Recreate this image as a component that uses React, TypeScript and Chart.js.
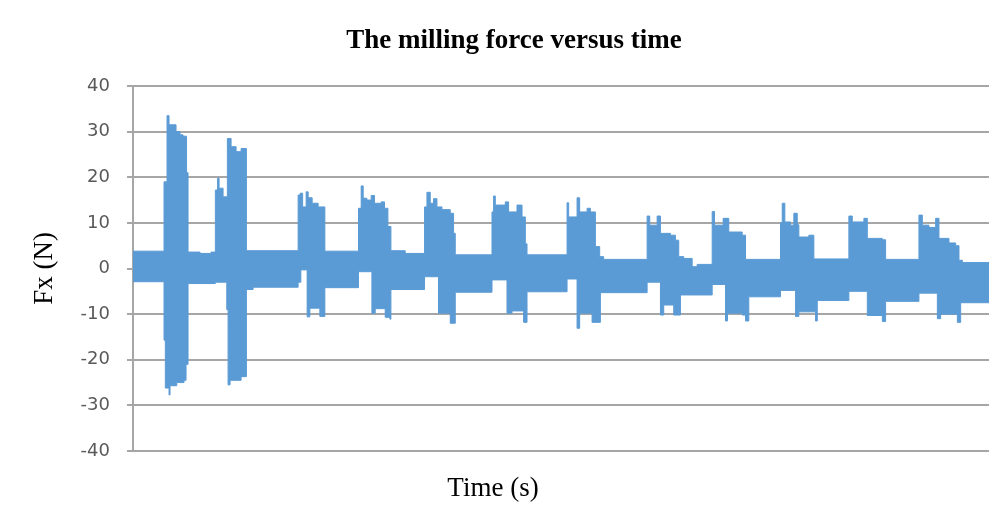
import React, { useEffect, useRef } from "react";
import { Chart, registerables } from "chart.js";

Chart.register(...registerables);

// Envelope of the sampled milling force signal (time in s, force in N)
const TIME_UPPER = [
  0, 3.1, 3.4, 3.6, 4.3, 4.7, 5.0, 5.35, 5.5, 6.7, 7.8, 8.23, 8.45, 8.6, 9.0, 9.43, 9.8, 10.3, 10.8, 11.33,
  16.5, 16.7, 16.95, 17.3, 17.5, 17.9, 18.5, 19.17, 22.53, 22.8, 23.0, 23.37, 23.8, 24.13, 24.8, 25.13, 25.47,
  25.77, 27.2, 29.13, 29.37, 29.7, 30.03, 30.37, 30.87, 31.7, 32.03, 32.2, 35.87, 36.03, 36.2, 37.2, 37.53,
  38.37, 38.87, 39.2, 39.37, 43.37, 43.53, 44.37, 44.63, 45.37, 45.7, 46.2, 46.63, 47.03, 51.37, 51.63, 52.37,
  52.7, 53.7, 54.2, 54.53, 55.03, 55.87, 56.37, 57.87, 58.1, 58.97, 59.53, 60.87, 61.2, 64.7, 64.87, 65.13,
  65.7, 66.03, 66.37, 66.53, 67.53, 68.03, 71.53, 71.87, 73.03, 73.37, 74.87, 75.2, 78.53, 78.87, 79.53, 80.2,
  80.53, 81.53, 82.2, 82.53, 82.87, 85.53,
];
const FORCE_UPPER = [
  3.8, 19, 33.5, 31.5, 30, 29.3, 29, 21, 3.6, 3.3, 3.6, 17.2, 19.8, 17.6, 15.7, 28.5, 26.7, 25.6, 26.3, 3.9,
  16.1, 16.5, 13.5, 16.8, 15.5, 14.3, 13.5, 3.8, 13.2, 18.1, 15.4, 15, 16, 14.3, 14.6, 13.2, 9.2,
  3.9, 3.3, 13.5, 16.7, 14.3, 15.3, 13.5, 12.9, 12.1, 7.7, 3, 12.4, 15.9, 13.9, 14.6, 12.4,
  13.9, 11.3, 5.4, 3, 14.4, 11.3, 15.5, 12.4, 13.2, 12.4, 4.8, 2.6, 2, 11.5, 9.5, 11.5,
  7.7, 7.3, 6.2, 2.6, 2.2, 0.4, 0.9, 12.5, 9.5, 11, 8, 7.3, 2, 10, 14.3, 10.2,
  9.5, 12.1, 9.6, 6.9, 7.3, 2.1, 11.5, 10.2, 11, 6.6, 6.3, 2, 11.7, 9.5, 9, 11,
  6.6, 5.6, 5, 1.8, 1.3, 1.3,
];
const TIME_LOWER = [
  0, 3.1, 3.23, 3.6, 3.7, 4.37, 5.1, 5.3, 5.5, 8.23, 9.37, 9.5, 9.7, 10.8, 11.33, 12.0, 16.5, 16.77, 17.4,
  17.67, 18.67, 19.17, 22.53, 23.87, 24.2, 25.2, 25.67, 25.77, 29.13, 30.53, 31.7, 32.2, 35.87, 37.37, 37.87,
  39.03, 39.37, 43.37, 44.37, 44.63, 45.87, 46.7, 51.37, 52.7, 53.03, 54.03, 54.7, 57.87, 59.2, 59.4, 60.87,
  61.2, 61.53, 64.7, 66.2, 66.53, 68.2, 68.37, 71.53, 73.37, 74.87, 75.2, 78.53, 80.37, 80.7, 82.37, 82.7, 85.53,
];
const FORCE_LOWER = [
  -2.9, -15.7, -26.2, -27.7, -25.7, -25, -24.5, -21, -3.3, -3, -9, -25.5, -24.5, -23.7, -4.6, -4.1, -3, -0.3, -10.6,
  -8.7, -10.5, -4.2, -0.7, -9.8, -8.8, -10.7, -11.1, -4.6, -1.8, -9.8, -12, -5.2, -2.5, -9.8, -9.3,
  -11.8, -5.1, -2.3, -13.1, -9.8, -11.8, -5.3, -3, -10.2, -8, -10.2, -5.8, -3.5, -11.5, -9.8, -10.2,
  -11.5, -6.2, -4.8, -10.5, -9.5, -11.5, -7, -5, -10.3, -11.6, -7.2, -5.4, -11, -10, -11.8, -7.5, -7.5,
];
const Y_TICKS = [-40, -30, -20, -10, 0, 10, 20, 30, 40];
const CHART_TITLE = "The milling force versus time";
const X_TITLE = "Time (s)";
const Y_TITLE = "Fx (N)";

const BLUE = "#5B9BD5";
const GRID = "#a6a6a6";

const textPlugin = {
  id: "textPlugin",
  afterDraw(chart: any) {
    const ctx = chart.ctx;
    const area = chart.chartArea;
    ctx.save();
    ctx.fillStyle = "#9a9a9a";
    ctx.fillRect(5, 3, 2, 517);
    ctx.fillRect(5, 3, 1001, 2);
    ctx.fillStyle = "#000";
    ctx.textAlign = "center";
    ctx.textBaseline = "middle";
    ctx.font = "bold 27px 'Liberation Serif'";
    ctx.fillText(CHART_TITLE, 514, 41);
    ctx.font = "27px 'Liberation Serif'";
    ctx.fillText(X_TITLE, 493, 489);
    ctx.translate(45, (area.top + area.bottom) / 2);
    ctx.rotate(-Math.PI / 2);
    ctx.fillText(Y_TITLE, 0, 0);
    ctx.restore();
  },
};

export default function App() {
  const ref = useRef<HTMLCanvasElement>(null);
  useEffect(() => {
    const upper = TIME_UPPER.map((t, i) => ({ x: t, y: FORCE_UPPER[i] }));
    const lower = TIME_LOWER.map((t, i) => ({ x: t, y: FORCE_LOWER[i] }));
    const chart = new Chart(ref.current!, {
      type: "line",
      data: {
        datasets: [
          { label: "Fx max", data: upper, stepped: "before", borderColor: BLUE, backgroundColor: BLUE, borderWidth: 1, pointRadius: 0, fill: false },
          { label: "Fx min", data: lower, stepped: "before", borderColor: BLUE, backgroundColor: BLUE, borderWidth: 1, pointRadius: 0, fill: "-1" },
        ],
      },
      options: {
        animation: false,
        responsive: false,
        layout: { padding: { left: 0, right: 17, top: 86, bottom: 69 } },
        plugins: { legend: { display: false }, tooltip: { enabled: false }, title: { display: false } },
        scales: {
          x: { type: "linear", min: 0, max: 85.53, display: false },
          y: {
            min: -40,
            max: 40,
            afterBuildTicks: (s: any) => { s.ticks = Y_TICKS.map((v) => ({ value: v })); },
            afterFit: (s: any) => { s.width = 133; },
            ticks: { color: "#595959", font: { family: "'DejaVu Sans'", size: 18 }, padding: 17 },
            grid: { color: GRID, lineWidth: 2, tickLength: 6, tickColor: GRID },
            border: { display: true, color: GRID, width: 2 },
          },
        },
      },
      plugins: [textPlugin],
    });
    return () => chart.destroy();
  }, []);
  return (
    <div style={{ margin: -8, width: 1006, height: 520, overflow: "hidden", background: "#fff" }}>
      <canvas ref={ref} width={1006} height={520} style={{ display: "block", width: 1006, height: 520 }} />
    </div>
  );
}
